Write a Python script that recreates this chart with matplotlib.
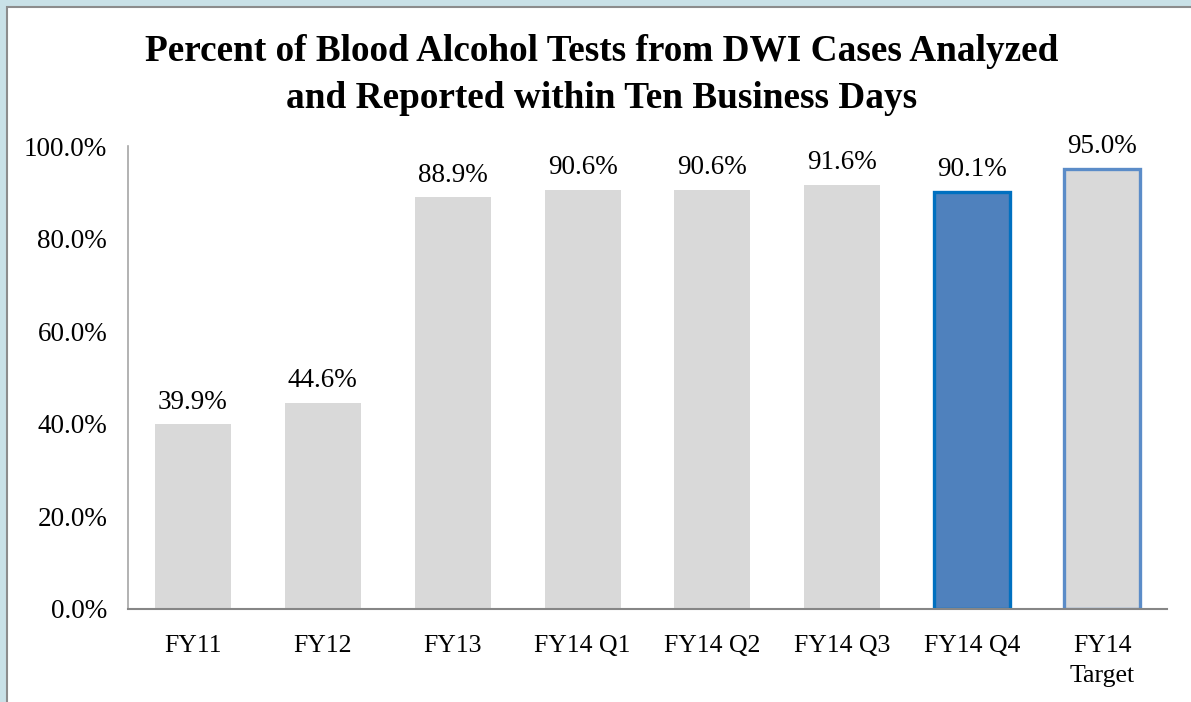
import matplotlib
matplotlib.use("Agg")
import matplotlib.pyplot as plt
from matplotlib.patches import Rectangle

categories = ["FY11", "FY12", "FY13", "FY14 Q1", "FY14 Q2", "FY14 Q3", "FY14 Q4", "FY14\nTarget"]
values = [39.9, 44.6, 88.9, 90.6, 90.6, 91.6, 90.1, 95.0]
yticks = [0, 20, 40, 60, 80, 100]

plt.rcParams['font.family'] = ['Liberation Serif', 'DejaVu Serif']

fig = plt.figure(figsize=(11.91, 7.02), dpi=100)
fig.patch.set_facecolor('#c9e1e7')
panel = Rectangle((7/1191, -0.05), 1.1, 1 - 7/702 + 0.05, transform=fig.transFigure,
                  facecolor='white', edgecolor='#8c8c8c', linewidth=1.5, zorder=-5)
fig.patches.append(panel)

ax = fig.add_axes([128/1191, 1 - 609/702, (1167 - 128)/1191, (609 - 146)/702])
ax.set_zorder(2)
ax.set_facecolor('none')

x = list(range(len(categories)))
fills = ['#d9d9d9'] * 6 + ['#4f81bd', '#d9d9d9']
edges = ['none'] * 6 + ['#0070c0', '#5b8cc8']
lws = [0] * 6 + [2.4, 2.4]
bars = ax.bar(x, values, width=0.585, color=fills, edgecolor=edges, linewidth=lws, zorder=1)

for xi, v in zip(x, values):
    ax.annotate(f"{v:.1f}%", (xi, v), xytext=(0, 7), textcoords='offset points',
                ha='center', va='bottom', fontsize=19.5, color='black')

ax.set_xlim(-0.5, len(categories) - 0.5)
ax.set_ylim(0, 100)
ax.set_yticks(yticks)
ax.set_yticklabels([f"{t:.1f}%" for t in yticks], fontsize=19.5)
ax.set_xticks(x)
ax.set_xticklabels(categories, fontsize=18.5, linespacing=1.45)
ax.tick_params(axis='y', length=0, pad=15)
ax.tick_params(axis='x', length=0, pad=19)
for lab in ax.get_xticklabels():
    lab.set_va('top')

for s in ['top', 'right']:
    ax.spines[s].set_visible(False)
ax.spines['left'].set_color('#a6a6a6')
ax.spines['left'].set_linewidth(1.2)
ax.spines['bottom'].set_color('#868686')
ax.spines['bottom'].set_linewidth(1.5)
ax.spines['bottom'].set_zorder(3)

fig.text(602/1191, 1 - 75/702,
         "Percent of Blood Alcohol Tests from DWI Cases Analyzed\nand Reported within Ten Business Days",
         ha='center', va='center', fontsize=26.8, fontweight='bold', linespacing=1.45)

fig.savefig("out.png", dpi=100, facecolor=fig.get_facecolor())
